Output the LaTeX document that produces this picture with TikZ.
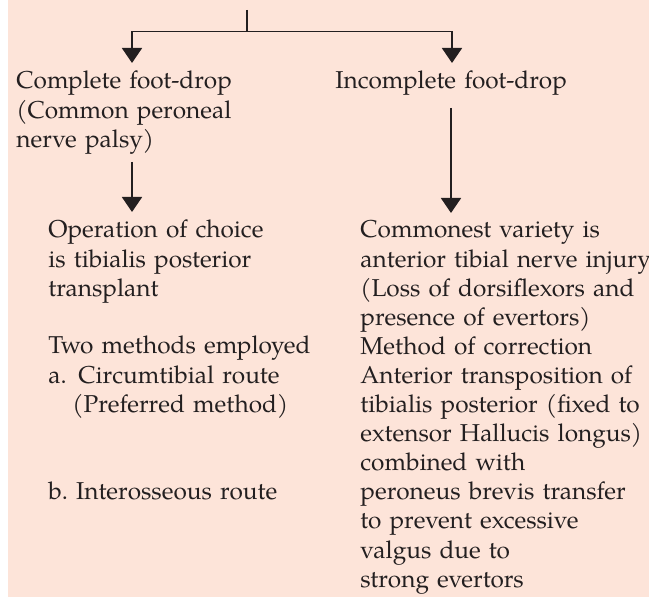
\documentclass[tikz,border=0pt]{standalone}
\usepackage{fontspec}
\setmainfont{TeX Gyre Pagella}
\usetikzlibrary{arrows.meta}
\definecolor{peach}{RGB}{253,228,217}
\definecolor{ink}{RGB}{35,31,32}
\tikzset{
  txt/.style={anchor=base west, inner sep=0pt, text width=#1, align=left, text=ink,
    font=\fontsize{12.2}{14.55}\selectfont},
  txt/.default=150pt,
  link/.style={draw=ink, line width=0.9pt},
  tip/.style={link, -{Triangle[width=10pt,length=7.5pt]}}
}
\begin{document}
\begin{tikzpicture}[x=0.5pt,y=-0.5pt]
        \useasboundingbox (0,0) rectangle (649,597);
        \fill[peach] (8,0) rectangle (649,597);
        % fork at the top
        \coordinate (root) at (247,10);
        \coordinate (fork) at (247,31.5);
        \coordinate (leftin) at (132,63);
        \coordinate (rightin) at (452,63);
        \node[txt] (complete) at (16,89) {Complete foot-drop\\(Common peroneal\\nerve palsy)};
        \node[txt] (incomplete) at (335,89) {Incomplete foot-drop};
        % left column
        \coordinate (leftout) at (132,162);
        \coordinate (choicein) at (132,212);
        \node[txt] (choice) at (48,238) {Operation of choice\\is tibialis posterior\\transplant};
        \node[txt] (methods) at (48,354) {Two methods employed\\\makebox[15pt][l]{a.}Circumtibial route\\\hspace*{12pt}(Preferred method)};
        \node[txt] (interosseous) at (48,500) {b.\ Interosseous route};
        % right column
        \coordinate (rightout) at (451,108);
        \coordinate (varietyin) at (451,213);
        \node[txt] (variety) at (360,238) {Commonest variety is\\anterior tibial nerve injury\\(Loss of dorsiflexors and\\presence of evertors)\\Method of correction\\Anterior transposition of\\tibialis posterior (fixed to\\extensor Hallucis longus)\\combined with\\peroneus brevis transfer\\to prevent excessive\\valgus due to\\strong evertors};
        \draw[link] (root) -- (fork);
        \draw[tip] (fork) -| (leftin);
        \draw[tip] (fork) -| (rightin);
        \draw[tip] (leftout) -- (choicein);
        \draw[tip] (rightout) -- (varietyin);
    \end{tikzpicture}
\end{document}
